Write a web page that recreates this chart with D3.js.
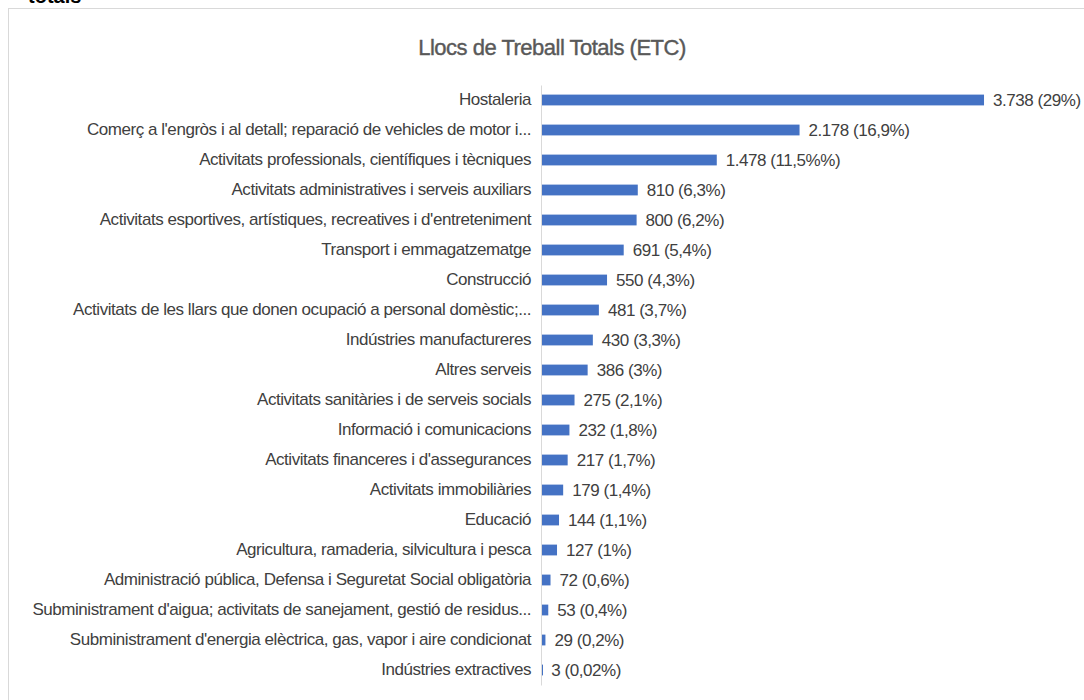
<!DOCTYPE html>
<html>
<head>
<meta charset="utf-8">
<script src="https://cdn.jsdelivr.net/npm/d3@7"></script>
<style>
  body { margin: 0; background: #fff; }
  svg text { font-family: "Liberation Sans", Arial, sans-serif; }
</style>
</head>
<body>
<div id="chart"></div>
<script>
// data
var categories = [
  "Hostaleria",
  "Comerç a l'engròs i al detall; reparació de vehicles de motor i...",
  "Activitats professionals, científiques i tècniques",
  "Activitats administratives i serveis auxiliars",
  "Activitats esportives,  artístiques, recreatives i d'entreteniment",
  "Transport i emmagatzematge",
  "Construcció",
  "Activitats de les llars que donen ocupació a personal domèstic;...",
  "Indústries manufactureres",
  "Altres serveis",
  "Activitats sanitàries i de serveis socials",
  "Informació i comunicacions",
  "Activitats financeres i d'assegurances",
  "Activitats immobiliàries",
  "Educació",
  "Agricultura, ramaderia, silvicultura i pesca",
  "Administració pública, Defensa i Seguretat Social obligatòria",
  "Subministrament d'aigua; activitats de sanejament, gestió de residus...",
  "Subministrament d'energia elèctrica, gas, vapor i aire condicionat",
  "Indústries extractives"
]
var values = [3738, 2178, 1478, 810, 800, 691, 550, 481, 430, 386, 275, 232, 217, 179, 144, 127, 72, 53, 29, 3]
var percents = ["29%", "16,9%", "11,5%%", "6,3%", "6,2%", "5,4%", "4,3%", "3,7%", "3,3%", "3%", "2,1%", "1,8%", "1,7%", "1,4%", "1,1%", "1%", "0,6%", "0,4%", "0,2%", "0,02%"]
var title = "Llocs de Treball Totals (ETC)"

var width = 1084
var height = 700

var locale = d3.formatLocale({decimal: ",", thousands: ".", grouping: [3], currency: ["", "€"]})
var fmt = locale.format(",d")

var svg = d3.select('#chart')
  .append('svg')
  .attr('width', width)
  .attr('height', height)

// heading above the chart, cut off at the top as in the screenshot
svg.append('text')
  .attr('x', 28)
  .attr('y', 3)
  .style('font-weight', 'bold')
  .style('font-size', '20px')
  .style('fill', '#000')
  .text('totals')

// chart frame
svg.append('rect')
  .attr('x', 8.5)
  .attr('y', 8.5)
  .attr('width', 1090)
  .attr('height', 700)
  .style('fill', '#fff')
  .style('stroke', '#d9d9d9')

svg.append('text')
  .attr('x', 552)
  .attr('y', 55)
  .attr('text-anchor', 'middle')
  .style('font-size', '22px')
  .style('letter-spacing', '-0.5px')
  .style('fill', '#595959')
  .style('stroke', '#595959')
  .style('stroke-width', 0.4)
  .text(title)

var x = d3.scaleLinear()
  .domain([0, 4000])
  .range([541, 1014])

var y = d3.scaleBand()
  .domain(categories)
  .range([85, 685])
  .paddingInner(0.64)
  .paddingOuter(0.32)

var yAxis = svg.append('g')
  .attr('transform', 'translate(' + x(0) + ',0)')
  .call(d3.axisLeft(y).tickSize(0).tickPadding(10))

yAxis.select('.domain')
  .attr('stroke', '#d9d9d9')
yAxis.selectAll('text')
  .style('font-family', '"Liberation Sans", Arial, sans-serif')
  .style('font-size', '17px')
  .style('letter-spacing', '-0.45px')
  .style('fill', '#404040')

svg.append('g')
  .selectAll('rect')
  .data(values)
  .enter()
  .append('rect')
  .attr('x', x(0) + 1)
  .attr('y', (d, i) => y(categories[i]))
  .attr('width', d => Math.max(x(d) - x(0), 1))
  .attr('height', y.bandwidth())
  .style('fill', '#4472c4')

svg.append('g')
  .selectAll('text')
  .data(values)
  .enter()
  .append('text')
  .attr('x', d => x(d) + 10)
  .attr('y', (d, i) => y(categories[i]) + y.bandwidth() / 2)
  .attr('dy', '0.35em')
  .style('font-size', '17px')
  .style('letter-spacing', '-0.45px')
  .style('fill', '#404040')
  .text((d, i) => fmt(d) + ' (' + percents[i] + ')')
</script>
</body>
</html>
